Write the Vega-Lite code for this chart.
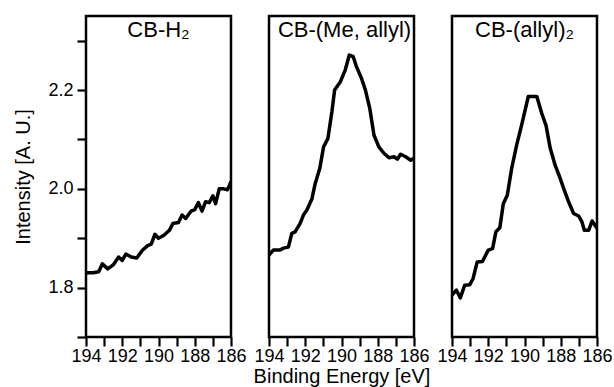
{
  "$schema": "https://vega.github.io/schema/vega-lite/v6.json",
  "padding": {"left": 12, "top": 14, "right": 5, "bottom": 0},
  "spacing": 38,
  "bounds": "flush",
  "config": {
    "view": {"stroke": "black", "strokeWidth": 2.5},
    "font": "Liberation Sans",
    "axis": {
      "domain": false,
      "grid": false,
      "tickColor": "black",
      "tickWidth": 2.2,
      "labelColor": "black",
      "labelFont": "Liberation Sans",
      "labelFontSize": 18,
      "titleFont": "Liberation Sans",
      "titleFontWeight": "normal",
      "titleColor": "black"
    },
    "title": {"font": "Liberation Sans", "fontSize": 22, "fontWeight": "normal", "color": "black", "offset": -26, "anchor": "middle"},
    "line": {"color": "black", "strokeWidth": 3.5, "strokeJoin": "round"}
  },
  "datasets": {
    "h2": [
      {"eV": 194.0, "I": 1.830}, {"eV": 193.6, "I": 1.830}, {"eV": 193.3, "I": 1.832}, {"eV": 193.1, "I": 1.848},
      {"eV": 192.8, "I": 1.838}, {"eV": 192.5, "I": 1.846}, {"eV": 192.2, "I": 1.862}, {"eV": 192.0, "I": 1.855},
      {"eV": 191.8, "I": 1.868}, {"eV": 191.5, "I": 1.862}, {"eV": 191.2, "I": 1.860}, {"eV": 190.9, "I": 1.875},
      {"eV": 190.6, "I": 1.885}, {"eV": 190.4, "I": 1.888}, {"eV": 190.2, "I": 1.908}, {"eV": 190.0, "I": 1.900},
      {"eV": 189.7, "I": 1.906}, {"eV": 189.4, "I": 1.916}, {"eV": 189.2, "I": 1.930}, {"eV": 188.9, "I": 1.932},
      {"eV": 188.7, "I": 1.947}, {"eV": 188.5, "I": 1.940}, {"eV": 188.2, "I": 1.955}, {"eV": 188.0, "I": 1.958},
      {"eV": 187.8, "I": 1.972}, {"eV": 187.6, "I": 1.955}, {"eV": 187.4, "I": 1.974}, {"eV": 187.2, "I": 1.972},
      {"eV": 187.0, "I": 1.986}, {"eV": 186.85, "I": 1.970}, {"eV": 186.65, "I": 2.000}, {"eV": 186.4, "I": 2.000},
      {"eV": 186.2, "I": 1.998}, {"eV": 186.1, "I": 2.006}, {"eV": 186.0, "I": 2.015}
    ],
    "meallyl": [
      {"eV": 194.0, "I": 1.866}, {"eV": 193.76, "I": 1.876}, {"eV": 193.39, "I": 1.876}, {"eV": 193.2, "I": 1.880},
      {"eV": 192.93, "I": 1.882}, {"eV": 192.74, "I": 1.910}, {"eV": 192.56, "I": 1.913}, {"eV": 192.28, "I": 1.930},
      {"eV": 192.1, "I": 1.947}, {"eV": 191.91, "I": 1.957}, {"eV": 191.63, "I": 1.980}, {"eV": 191.45, "I": 2.011},
      {"eV": 191.2, "I": 2.041}, {"eV": 190.99, "I": 2.085}, {"eV": 190.75, "I": 2.102}, {"eV": 190.53, "I": 2.156},
      {"eV": 190.38, "I": 2.200}, {"eV": 190.06, "I": 2.217}, {"eV": 189.79, "I": 2.241}, {"eV": 189.57, "I": 2.271},
      {"eV": 189.36, "I": 2.268}, {"eV": 189.18, "I": 2.248}, {"eV": 188.9, "I": 2.224}, {"eV": 188.68, "I": 2.200},
      {"eV": 188.44, "I": 2.163}, {"eV": 188.21, "I": 2.109}, {"eV": 187.94, "I": 2.085}, {"eV": 187.66, "I": 2.072},
      {"eV": 187.38, "I": 2.063}, {"eV": 187.1, "I": 2.065}, {"eV": 186.92, "I": 2.060}, {"eV": 186.74, "I": 2.070},
      {"eV": 186.46, "I": 2.065}, {"eV": 186.18, "I": 2.058}, {"eV": 186.0, "I": 2.062}
    ],
    "allyl2": [
      {"eV": 194.0, "I": 1.785}, {"eV": 193.76, "I": 1.795}, {"eV": 193.54, "I": 1.779}, {"eV": 193.3, "I": 1.805},
      {"eV": 193.02, "I": 1.806}, {"eV": 192.84, "I": 1.818}, {"eV": 192.61, "I": 1.852}, {"eV": 192.32, "I": 1.853},
      {"eV": 192.0, "I": 1.876}, {"eV": 191.76, "I": 1.879}, {"eV": 191.58, "I": 1.913}, {"eV": 191.36, "I": 1.921},
      {"eV": 191.17, "I": 1.970}, {"eV": 190.95, "I": 1.987}, {"eV": 190.71, "I": 2.041}, {"eV": 190.43, "I": 2.089},
      {"eV": 190.16, "I": 2.129}, {"eV": 189.79, "I": 2.187}, {"eV": 189.32, "I": 2.187}, {"eV": 189.05, "I": 2.153},
      {"eV": 188.81, "I": 2.128}, {"eV": 188.58, "I": 2.082}, {"eV": 188.31, "I": 2.048}, {"eV": 188.07, "I": 2.025},
      {"eV": 187.81, "I": 1.998}, {"eV": 187.57, "I": 1.974}, {"eV": 187.29, "I": 1.950}, {"eV": 187.01, "I": 1.945},
      {"eV": 186.83, "I": 1.933}, {"eV": 186.7, "I": 1.916}, {"eV": 186.46, "I": 1.916}, {"eV": 186.27, "I": 1.935},
      {"eV": 186.0, "I": 1.920}
    ]
  },
  "hconcat": [
    {
      "width": 145, "height": 321,
      "title": {"text": "CB-H₂"},
      "data": {"name": "h2"},
      "mark": {"type": "line", "clip": true},
      "encoding": {
        "x": {"field": "eV", "type": "quantitative", "sort": null,
          "scale": {"domain": [194, 186], "nice": false},
          "axis": {"title": null, "values": [194, 193, 192, 191, 190, 189, 188, 187, 186], "format": "d",
            "labelExpr": "datum.value % 2 === 0 ? datum.label : ''", "tickSize": 9, "labelPadding": 1, "labelFlush": false,
            "encode": {"ticks": {"update": {"y2": {"signal": "datum.value % 2 === 0 ? 9 : 5"}}}}}},
        "y": {"field": "I", "type": "quantitative",
          "scale": {"domain": [1.7, 2.35], "nice": false, "zero": false},
          "axis": {"title": "Intensity [A. U.]", "titleFontSize": 20, "titlePadding": 14,
            "values": [1.7, 1.8, 1.9, 2.0, 2.1, 2.2, 2.3], "format": ".1f",
            "labelExpr": "round(datum.value * 10) % 2 === 0 ? datum.label : ''",
            "tickSize": 9, "labelPadding": 4,
            "encode": {"ticks": {"update": {"x2": {"signal": "round(datum.value * 10) % 2 === 0 ? -9 : -5"}}}}}}
      }
    },
    {
      "width": 145, "height": 321,
      "title": {"text": "CB-(Me, allyl)", "dx": 3},
      "data": {"name": "meallyl"},
      "mark": {"type": "line", "clip": true},
      "encoding": {
        "x": {"field": "eV", "type": "quantitative", "sort": null,
          "scale": {"domain": [194, 186], "nice": false},
          "axis": {"title": "Binding Energy [eV]", "titleFontSize": 20, "titlePadding": 1,
            "values": [194, 193, 192, 191, 190, 189, 188, 187, 186], "format": "d",
            "labelExpr": "datum.value % 2 === 0 ? datum.label : ''", "tickSize": 9, "labelPadding": 1, "labelFlush": false,
            "encode": {"ticks": {"update": {"y2": {"signal": "datum.value % 2 === 0 ? 9 : 5"}}}}}},
        "y": {"field": "I", "type": "quantitative",
          "scale": {"domain": [1.7, 2.35], "nice": false, "zero": false},
          "axis": null}
      }
    },
    {
      "width": 145, "height": 321,
      "title": {"text": "CB-(allyl)₂"},
      "data": {"name": "allyl2"},
      "mark": {"type": "line", "clip": true},
      "encoding": {
        "x": {"field": "eV", "type": "quantitative", "sort": null,
          "scale": {"domain": [194, 186], "nice": false},
          "axis": {"title": null, "values": [194, 193, 192, 191, 190, 189, 188, 187, 186], "format": "d",
            "labelExpr": "datum.value % 2 === 0 ? datum.label : ''", "tickSize": 9, "labelPadding": 1, "labelFlush": false,
            "encode": {"ticks": {"update": {"y2": {"signal": "datum.value % 2 === 0 ? 9 : 5"}}}}}},
        "y": {"field": "I", "type": "quantitative",
          "scale": {"domain": [1.7, 2.35], "nice": false, "zero": false},
          "axis": null}
      }
    }
  ]
}
